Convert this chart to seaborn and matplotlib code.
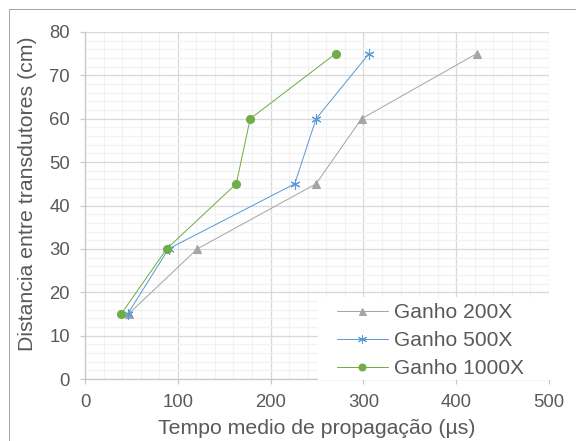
import matplotlib
matplotlib.use("Agg")
import matplotlib.pyplot as plt
from matplotlib.patches import Rectangle
from matplotlib.lines import Line2D
from matplotlib.ticker import MultipleLocator
import seaborn as sns
import pandas as pd

# ---- data ----
series_names = ["Ganho 200X", "Ganho 500X", "Ganho 1000X"]
distance_cm = [15, 30, 45, 60, 75]
tempo_200x = [47, 121, 249, 298, 422]
tempo_500x = [46, 90, 226, 249, 306]
tempo_1000x = [39, 88, 163, 178, 270]

colors = {"Ganho 200X": "#A5A5A5", "Ganho 500X": "#5B9BD5", "Ganho 1000X": "#70AD47"}
markers = {"Ganho 200X": "^", "Ganho 500X": (6, 2, 0), "Ganho 1000X": "o"}
msizes = {"Ganho 200X": 8, "Ganho 500X": 10, "Ganho 1000X": 8}

rows = []
for name, vals in zip(series_names, [tempo_200x, tempo_500x, tempo_1000x]):
    for t, d in zip(vals, distance_cm):
        rows.append({"tempo": t, "dist": d, "serie": name})
df = pd.DataFrame(rows)

sns.set_style("white")
plt.rcParams["font.family"] = ["Liberation Sans", "DejaVu Sans"]
text_color = "#595959"

fig = plt.figure(figsize=(8, 6.125), dpi=72)
ax = fig.add_axes([85 / 576, (441 - 379) / 441, (549 - 85) / 576, (379 - 32) / 441])

for name in series_names:
    sub = df[df["serie"] == name]
    sns.lineplot(data=sub, x="tempo", y="dist", color=colors[name],
                 marker=markers[name], sort=False, estimator=None,
                 linewidth=1, markersize=msizes[name], markeredgewidth=1.1,
                 markerfacecolor=colors[name], markeredgecolor=colors[name],
                 ax=ax, legend=False)

ax.set_xlim(0, 500)
ax.set_ylim(0, 80)
ax.xaxis.set_major_locator(MultipleLocator(100))
ax.xaxis.set_minor_locator(MultipleLocator(20))
ax.yaxis.set_major_locator(MultipleLocator(10))
ax.yaxis.set_minor_locator(MultipleLocator(2))
ax.set_axisbelow(True)
ax.grid(which="minor", color="#F2F2F2", linewidth=1.3)
ax.grid(which="major", color="#D9D9D9", linewidth=1.3)

for s in ["top", "right"]:
    ax.spines[s].set_visible(False)
for s in ["left", "bottom"]:
    ax.spines[s].set_color("#C8C8C8")
    ax.spines[s].set_linewidth(1.3)

ax.tick_params(axis="both", which="major", length=5, width=1.2, color="#C8C8C8",
               labelsize=18.5, labelcolor=text_color, direction="out", pad=10)
ax.tick_params(axis="both", which="minor", length=0)
ax.tick_params(bottom=True, left=True)

ax.set_xlabel("Tempo medio de propagação (µs)", fontsize=21.3, color=text_color)
ax.set_ylabel("Distancia entre transdutores (cm)", fontsize=21.3, color=text_color)
ax.xaxis.label.set_va("center")
ax.yaxis.label.set_va("center")
ax.xaxis.set_label_coords(0.5, (379 - 429) / 347)
ax.yaxis.set_label_coords((28 - 85) / 463, (379 - 194) / 347)

# legend background
ax.add_patch(Rectangle(((317 - 85) / 463, (379 - 380) / 347), (551 - 317) / 463, (380 - 297) / 347,
                       transform=ax.transAxes, facecolor="white", edgecolor="none",
                       zorder=4, clip_on=False))
handles = [Line2D([], [], color=colors[n], marker=markers[n], markersize=msizes[n] - 1, linewidth=1,
                  markerfacecolor=colors[n], markeredgecolor=colors[n]) for n in series_names]
leg = ax.legend(handles, series_names, loc="upper left",
                bbox_to_anchor=((336 - 85) / 463, (379 - 303) / 347),
                frameon=False, fontsize=21, handlelength=2.45, handletextpad=0.28,
                labelspacing=0.43, borderpad=0, borderaxespad=0)
leg.set_zorder(5)
for t in leg.get_texts():
    t.set_color(text_color)

# figure border (left and top)
fig.add_artist(Line2D([9 / 576, 9 / 576], [0, 1 - 9 / 441], transform=fig.transFigure,
                      color="#A6A6A6", linewidth=1))
fig.add_artist(Line2D([9 / 576, 1], [1 - 9 / 441, 1 - 9 / 441], transform=fig.transFigure,
                      color="#A6A6A6", linewidth=1))

fig.savefig("out.png", dpi=72)
